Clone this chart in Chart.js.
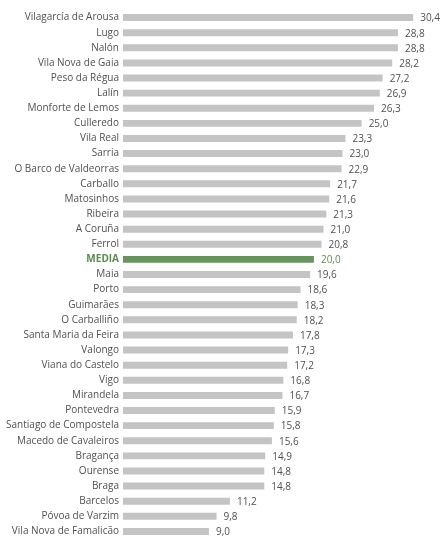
<!DOCTYPE html>
<html><head><meta charset="utf-8">
<script src="https://cdn.jsdelivr.net/npm/chart.js@4"></script>
<style>html,body{margin:0;padding:0;background:#fff}#wrap{width:441px;height:549px}</style>
</head><body><div id="wrap"><canvas id="c"></canvas></div>
<script>
const categories = ["Vilagarcía de Arousa","Lugo","Nalón","Vila Nova de Gaia","Peso da Régua","Lalín","Monforte de Lemos","Culleredo","Vila Real","Sarria","O Barco de Valdeorras","Carballo","Matosinhos","Ribeira","A Coruña","Ferrol","MEDIA","Maia","Porto","Guimarães","O Carballiño","Santa Maria da Feira","Valongo","Viana do Castelo","Vigo","Mirandela","Pontevedra","Santiago de Compostela","Macedo de Cavaleiros","Bragança","Ourense","Braga","Barcelos","Póvoa de Varzim","Vila Nova de Famalicão"];
const values = [30.4,28.8,28.8,28.2,27.2,26.9,26.3,25.0,23.3,23.0,22.9,21.7,21.6,21.3,21.0,20.8,20.0,19.6,18.6,18.3,18.2,17.8,17.3,17.2,16.8,16.7,15.9,15.8,15.6,14.9,14.8,14.8,11.2,9.8,9.0];
const highlight = "MEDIA";

const GREY = "#c4c4c4", GREEN = "#67935d", TXT = "#505050", GTXT = "#5a8a50";
const FONT = "'Open Sans', sans-serif";
const isHi = i => categories[i] === highlight;

const valueLabels = {
  id: 'valueLabels',
  afterDatasetsDraw(chart) {
    const ctx = chart.ctx, meta = chart.getDatasetMeta(0);
    ctx.save();
    ctx.font = "10px " + FONT;
    ctx.textBaseline = "middle";
    ctx.textAlign = "left";
    meta.data.forEach((bar, i) => {
      ctx.fillStyle = isHi(i) ? GTXT : TXT;
      ctx.fillText(values[i].toFixed(1).replace('.', ','), bar.x + 7, bar.y + 1);
    });
    ctx.restore();
  }
};

new Chart(document.getElementById('c'), {
  type: 'bar',
  data: {
    labels: categories,
    datasets: [{
      data: values,
      backgroundColor: categories.map((c, i) => isHi(i) ? GREEN : GREY),
      borderWidth: 0,
      categoryPercentage: 1,
      barPercentage: 0.46
    }]
  },
  options: {
    indexAxis: 'y',
    responsive: true,
    maintainAspectRatio: false,
    animation: false,
    layout: { padding: { top: 4, bottom: 0, left: 0, right: 3 } },
    plugins: { legend: { display: false }, tooltip: { enabled: false } },
    scales: {
      x: { display: false, min: 0, max: 33 },
      y: {
        grid: { display: false, drawTicks: false },
        border: { display: false },
        afterFit(s) { s.width = 123; },
        ticks: {
          padding: 4,
          autoSkip: false,
          font: (c) => ({ family: FONT, size: 10, weight: isHi(c.index) ? 'bold' : 'normal' }),
          color: (c) => isHi(c.index) ? GTXT : TXT
        }
      }
    }
  },
  plugins: [valueLabels]
});
</script></body></html>
